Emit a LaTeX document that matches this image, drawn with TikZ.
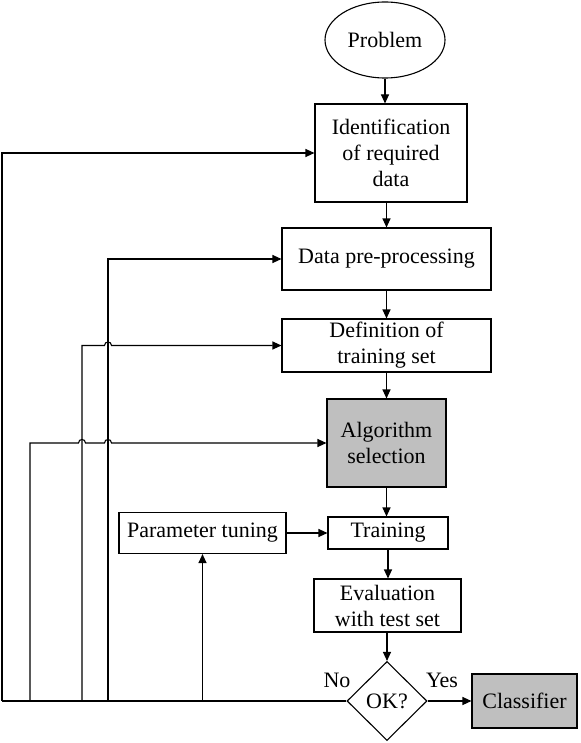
\documentclass[tikz,border=0pt]{standalone}
\usepackage{fontspec}
\setmainfont{Liberation Serif}
\usetikzlibrary{shapes.geometric,arrows.meta}
\begin{document}
\begin{tikzpicture}[x=1pt,y=-1pt,
  every node/.style={font=\fontsize{22}{26}\selectfont, inner sep=0pt, align=center},
  box/.style={draw, line width=1.1pt, rectangle},
  arr/.style={-{Triangle[length=9pt,width=8pt]}, line width=1.1pt},
  ln/.style={line width=1.1pt}]
\useasboundingbox (0,0) rectangle (580,743);
\node[draw,ellipse,minimum width=120pt,minimum height=76pt,line width=1.1pt] (prob) at (385,40) {Problem};
\node[box,minimum width=152pt,minimum height=98pt] (ident) at (391,153) {Identification\\of required\\data};
\node[box,minimum width=209pt,minimum height=62pt] (prep) at (386.5,259) {Data pre-processing};
\node[box,minimum width=209pt,minimum height=53pt] (def) at (386.5,345.5) {Definition of\\training set};
\node[box,fill=black!25,minimum width=119pt,minimum height=88pt] (alg) at (386.5,443) {Algorithm\\selection};
\node[box,minimum width=120pt,minimum height=32pt] (train) at (388,533) {Training};
\node[box,minimum width=167pt,minimum height=41pt] (param) at (202.5,533) {Parameter tuning};
\node[box,minimum width=147pt,minimum height=53pt] (eval) at (387.5,605.5) {Evaluation\\with test set};
\node[draw,diamond,minimum width=80pt,minimum height=79pt,line width=1.1pt] (ok) at (387,701) {OK?};
\node[box,fill=black!25,minimum width=105pt,minimum height=54pt] (cls) at (524.5,701) {Classifier};
\node (no) at (337,680) {No};
\node (yes) at (442,680) {Yes};
% main spine
\draw[arr] (prob.south) -- (prob.south |- ident.north);
\draw[arr] (ident.south -| prep) -- (prep.north);
\draw[arr] (prep.south) -- (def.north);
\draw[arr] (def.south) -- (alg.north);
\draw[arr] (alg.south) -- (alg.south |- train.north);
\draw[arr] (train.south) -- (train.south |- eval.north);
\draw[arr] (eval.south -| ok) -- (ok.north);
\draw[arr] (ok.east) -- (cls.west);
\draw[arr] (param.east) -- (param.east -| train.west);
% feedback
\coordinate (f0) at (2,701);
\coordinate (f1) at (30,701);
\coordinate (f2) at (82,701);
\coordinate (f3) at (108,701);
\coordinate (fp) at (202.5,701);
\draw[ln] (ok.west) -- (f0);
\draw[arr] (f0) |- (ident.west);
\draw[arr] (f3) |- (prep.west);
\draw[arr] (f2) -- (f2 |- def.west) -- ([xshift=-3.5pt]f3 |- def.west) .. controls +(0,-4.7) and +(0,-4.7) .. ([xshift=3.5pt]f3 |- def.west) -- (def.west);
\draw[arr] (f1) -- (f1 |- alg.west) -- ([xshift=-3.5pt]f2 |- alg.west) .. controls +(0,-4.7) and +(0,-4.7) .. ([xshift=3.5pt]f2 |- alg.west) -- ([xshift=-3.5pt]f3 |- alg.west) .. controls +(0,-4.7) and +(0,-4.7) .. ([xshift=3.5pt]f3 |- alg.west) -- (alg.west);
\draw[arr] (fp) -- (param.south);
\end{tikzpicture}
\end{document}
